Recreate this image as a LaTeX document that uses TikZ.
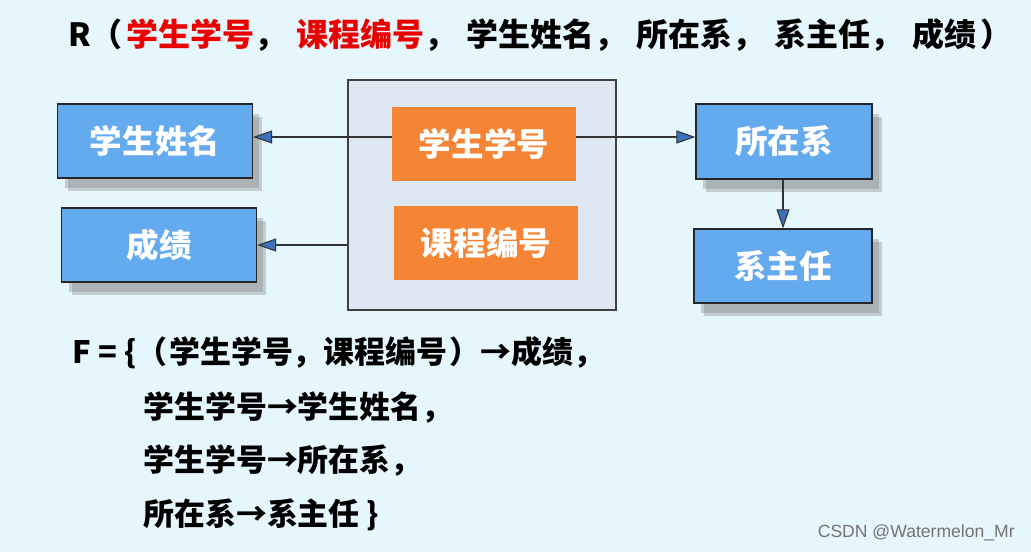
\documentclass[tikz,border=0pt]{standalone}
\usepackage{fontspec}
\setmainfont{Liberation Sans}
\newfontfamily\cjk{Noto Sans CJK SC}
\usetikzlibrary{arrows.meta,shadows}

\definecolor{bgblue}{RGB}{230,246,253}
\definecolor{boxblue}{RGB}{100,170,238}
\definecolor{keygray}{RGB}{222,232,243}
\definecolor{keyorange}{RGB}{245,132,52}
\definecolor{tipblue}{RGB}{60,112,184}
\definecolor{titlered}{RGB}{235,0,0}

\newcommand{\cm}{，\hspace{0.2cm}}

\tikzset{
  bluebox/.style={draw=black!85, fill=boxblue, line width=0.7pt,
    minimum width=3.9cm, minimum height=1.48cm, inner sep=0pt,
    text=white, font=\cjk\bfseries\fontsize{18.5}{22}\selectfont,
    drop shadow={shadow xshift=0.2cm, shadow yshift=-0.26cm, fill=black!55, opacity=0.3},
    drop shadow={shadow xshift=0.14cm, shadow yshift=-0.2cm, fill=black!55, opacity=0.3}},
  orangebox/.style={fill=keyorange, minimum width=3.68cm, minimum height=1.48cm,
    inner sep=0pt, text=white, font=\cjk\bfseries\fontsize{18.5}{22}\selectfont},
  keyblock/.style={draw=black!75, fill=keygray, line width=0.7pt,
    minimum width=5.36cm, minimum height=4.6cm, inner sep=0pt},
  fdarrow/.style={draw=black!80, line width=0.6pt,
    -{Triangle[length=0.38cm, width=0.26cm, fill=tipblue]}},
  fdline/.style={anchor=west, inner sep=0pt, font=\cjk\bfseries\fontsize{17.6}{20}\selectfont}
}

\begin{document}
\begin{tikzpicture}[x=0.02cm, y=-0.02cm]
        \useasboundingbox[fill=bgblue] (0,0) rectangle (1031,552);

        % Relation
        \node[fdline, font=\cjk\bfseries\fontsize{18.2}{22}\selectfont] at (68,35) (rel)
            {R（\hspace{0.08cm}\textcolor{titlered}{学生学号}\cm\textcolor{titlered}{课程编号}\cm 学生姓名\cm 所在系\cm 系主任\cm 成绩\hspace{0.08cm}）};

        % Nodes
        \node[keyblock]  at (482,195)   (key)  {};
        \node[orangebox] at (484,144)   (xsxh) {学生学号};
        \node[orangebox] at (486,242.5) (kcbh) {课程编号};
        \node[bluebox]   at (155,141)   (xsxm) {学生姓名};
        \node[bluebox]   at (159,245)   (cj)   {成绩};
        \node[bluebox, minimum width=3.52cm, minimum height=1.5cm] at (784,141.5) (szx) {所在系};
        \node[bluebox, minimum width=3.56cm] at (783,266) (xzr) {系主任};

        % Dependencies
        \draw[fdarrow] ([yshift=0.14cm]xsxh.west) -- ([yshift=0.14cm]xsxh.west -| xsxm.east);
        \draw[fdarrow] (cj.east -| key.west) -- (cj.east);
        \draw[fdarrow] ([yshift=0.14cm]xsxh.east) -- ([yshift=0.14cm]xsxh.east -| szx.west);
        \draw[fdarrow] (szx.south -| xzr.north) -- (xzr.north);

        % F
        \node[fdline] at (72,353)  (f1) {F = \{（\hspace{0.04cm}学生学号，课程编号\hspace{0.04cm}）→成绩，};
        \node[fdline] at (143,408) (f2) {学生学号→学生姓名，};
        \node[fdline] at (143,461) (f3) {学生学号→所在系，};
        \node[fdline] at (143,515) (f4) {所在系→系主任 \}};

        \node[anchor=east, inner sep=0pt, text=black!55, font=\fontsize{10}{12}\selectfont]
            at (1015,533) (mark) {CSDN @Watermelon\_Mr};
\end{tikzpicture}
\end{document}
